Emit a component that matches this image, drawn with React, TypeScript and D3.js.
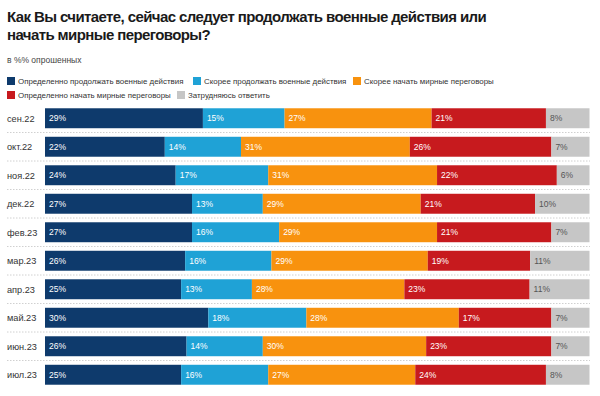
import React, { useEffect, useRef } from "react";
import * as d3 from "d3";

const months = ["сен.22", "окт.22", "ноя.22", "дек.22", "фев.23", "мар.23", "апр.23", "май.23", "июн.23", "июл.23"];

const seriesNames = [
  "Определенно продолжать военные действия",
  "Скорее продолжать военные действия",
  "Скорее начать мирные переговоры",
  "Определенно начать мирные переговоры",
  "Затрудняюсь ответить",
];

// values per series, one per month
const definitelyContinue = [29, 22, 24, 27, 27, 26, 25, 30, 26, 25];
const ratherContinue = [15, 14, 17, 13, 16, 16, 13, 18, 14, 16];
const ratherNegotiate = [27, 31, 31, 29, 29, 29, 28, 28, 30, 27];
const definitelyNegotiate = [21, 26, 22, 21, 21, 19, 23, 17, 23, 24];
const hardToSay = [8, 7, 6, 10, 7, 11, 11, 7, 7, 8];

const colors = ["#0e3a6c", "#1fa2d6", "#f8920e", "#c71a1e", "#c6c6c6"];

const W = 600;
const H = 396;
const FONT = "'Liberation Sans', Arial, sans-serif";

const App = () => {
  const svgRef = useRef<SVGSVGElement>(null);

  useEffect(() => {
    const svg = d3.select(svgRef.current);
    svg.selectAll("*").remove();

    const keys = ["k0", "k1", "k2", "k3", "k4"];
    const cols = [definitelyContinue, ratherContinue, ratherNegotiate, definitelyNegotiate, hardToSay];
    const table = months.map((m, i) => {
      const row: any = { month: m };
      keys.forEach((k, j) => (row[k] = cols[j][i]));
      return row;
    });

    // each row is normalised to the full width
    const stacked = d3.stack<any>().keys(keys).offset(d3.stackOffsetExpand)(table);

    const x = d3.scaleLinear().domain([0, 1]).range([45, 589.5]);
    const y = d3.scaleBand().domain(months).range([104, 389]).paddingInner(0.3).paddingOuter(0.15);

    // title
    const title = svg.append("text")
      .attr("font-family", FONT)
      .attr("font-size", 15)
      .attr("font-weight", "bold")
      .attr("letter-spacing", -0.6)
      .attr("fill", "#1a1a1a");
    title.append("tspan").attr("x", 7).attr("y", 22).text("Как Вы считаете, сейчас следует продолжать военные действия или");
    title.append("tspan").attr("x", 7).attr("y", 40).text("начать мирные переговоры?");

    svg.append("text")
      .attr("x", 7).attr("y", 63)
      .attr("font-family", FONT).attr("font-size", 8.5)
      .attr("fill", "#444")
      .text("в %% опрошенных");

    // legend
    const legendPos = [
      [7, 77], [193, 77], [353, 77],
      [7, 91], [177, 91],
    ];
    const legend = svg.append("g");
    seriesNames.forEach((name, i) => {
      const [lx, ly] = legendPos[i];
      legend.append("rect")
        .attr("x", lx).attr("y", ly)
        .attr("width", 8).attr("height", 8)
        .attr("fill", colors[i]);
      legend.append("text")
        .attr("x", lx + 11).attr("y", ly + 7)
        .attr("font-family", FONT).attr("font-size", 7.9)
        .attr("fill", "#333")
        .text(name);
    });

    // dotted separators between rows
    const step = y.step();
    const sepY = (d: string) => (y(d) as number) + y.bandwidth() + (step - y.bandwidth()) / 2;
    svg.append("g")
      .selectAll("line")
      .data(months.slice(0, -1))
      .join("line")
      .attr("x1", 7).attr("x2", 590)
      .attr("y1", sepY)
      .attr("y2", sepY)
      .attr("stroke", "#d0d0d0")
      .attr("stroke-width", 1)
      .attr("stroke-dasharray", "1.5,1.5");

    // month labels
    svg.append("g")
      .selectAll("text")
      .data(months)
      .join("text")
      .attr("x", 7)
      .attr("y", d => (y(d) as number) + y.bandwidth() / 2 + 3.5)
      .attr("font-family", FONT).attr("font-size", 9.2)
      .attr("fill", "#333")
      .text(d => d);

    // stacked bars
    const groups = svg.append("g")
      .selectAll("g")
      .data(stacked)
      .join("g")
      .attr("fill", (_, i) => colors[i]);

    groups.selectAll("rect")
      .data(d => d)
      .join("rect")
      .attr("x", d => x(d[0]))
      .attr("y", d => y(d.data.month) as number)
      .attr("width", d => x(d[1]) - x(d[0]))
      .attr("height", y.bandwidth());

    groups.selectAll("text")
      .data((d, i) => d.map(v => ({ v, key: keys[i], idx: i })))
      .join("text")
      .attr("x", d => x(d.v[0]) + 4)
      .attr("y", d => (y(d.v.data.month) as number) + y.bandwidth() / 2 + 3)
      .attr("font-family", FONT).attr("font-size", 8.5)
      .attr("fill", d => (d.idx === 4 ? "#555" : "#fff"))
      .text(d => `${d.v.data[d.key]}%`);
  }, []);

  return (
    <svg
      ref={svgRef}
      width={W}
      height={H}
      style={{ position: "absolute", left: 0, top: 0, background: "#fff" }}
    />
  );
};

export default App;
